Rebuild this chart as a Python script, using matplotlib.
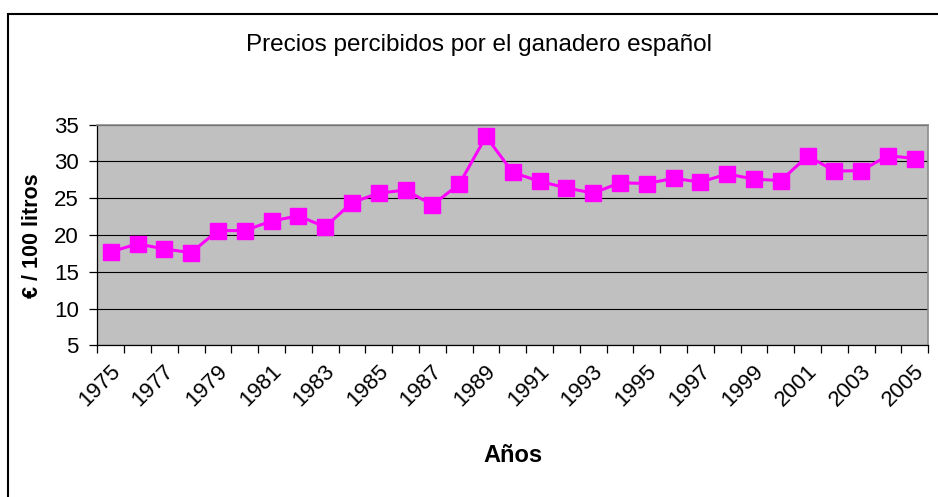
import numpy as np
import matplotlib
matplotlib.use("Agg")
import matplotlib.pyplot as plt
from matplotlib import font_manager
from matplotlib.transforms import ScaledTranslation
from matplotlib.patches import Rectangle

years = list(range(1975, 2006))
precios = [17.7, 18.8, 18.1, 17.6, 20.6, 20.6, 21.9, 22.6, 21.1, 24.4,
           25.7, 26.1, 24.1, 26.9, 33.4, 28.5, 27.3, 26.4, 25.7, 27.1,
           27.0, 27.7, 27.2, 28.3, 27.6, 27.4, 30.75, 28.7, 28.75, 30.8, 30.4]
year_labels = [str(y) for y in years]
title = "Precios percibidos por el ganadero español"
ylabel = "€ / 100 litros"
xlabel = "Años"

names = {f.name for f in font_manager.fontManager.ttflist}
narrow = "Liberation Sans Narrow" if "Liberation Sans Narrow" in names else "Liberation Sans"
regular = "Liberation Sans" if "Liberation Sans" in names else "DejaVu Sans"

W, H = 938, 497
fig = plt.figure(figsize=(W / 100, H / 100), dpi=100)
fig.patch.set_facecolor("white")

# outer frame (extends beyond right/bottom edges)
fig.add_artist(Rectangle((7.5 / W, -0.1), 1.2, 1 - 13.5 / H + 0.1,
                         transform=fig.transFigure, fill=False,
                         edgecolor="black", linewidth=1.5, zorder=0))

L, R, T, B = 97.3, 928.3, 124.7, 345.3
ax = fig.add_axes([L / W, 1 - B / H, (R - L) / W, (B - T) / H])
ax.set_facecolor("#C0C0C0")

x = np.arange(len(years))
ax.plot(x, precios, color="#FF00FF", linewidth=2.2, marker="s",
        markersize=11.5, markeredgecolor="#FF00FF", markerfacecolor="#FF00FF",
        zorder=3, clip_on=False)

ax.set_xlim(-0.5, len(years) - 0.5)
ax.set_ylim(5, 35)
ax.set_yticks(np.arange(5, 36, 5))
ax.yaxis.grid(True, color="black", linewidth=0.8)
ax.set_axisbelow(True)

# x: labels on every other year, tick marks on category boundaries
ax.set_xticks(x[::2])
ax.set_xticklabels(year_labels[::2])
ax.set_xticks(np.arange(-0.5, len(years), 1), minor=True)
ax.tick_params(axis="x", which="major", length=0, pad=11)
ax.tick_params(axis="x", which="minor", length=5.5, width=0.9, color="black", direction="out")
ax.tick_params(axis="y", length=5.8, width=0.9, color="black", direction="out", pad=7.5)

off = ScaledTranslation(-1 / 100, 0, fig.dpi_scale_trans)
for lab in ax.get_xticklabels():
    lab.set_rotation(45)
    lab.set_ha("right")
    lab.set_va("top")
    lab.set_rotation_mode("anchor")
    lab.set_fontfamily(narrow)
    lab.set_fontsize(16)
    lab.set_transform(lab.get_transform() + off)
for lab in ax.get_yticklabels():
    lab.set_fontfamily(narrow)
    lab.set_fontsize(16)

for s in ("left", "bottom"):
    ax.spines[s].set_color("black")
    ax.spines[s].set_linewidth(0.9)
for s in ("top", "right"):
    ax.spines[s].set_color("#8C8C8C")
    ax.spines[s].set_linewidth(1.2)

fig.text(479 / W, 1 - 45 / H, title, ha="center", va="center",
         fontsize=17.5, fontfamily=narrow)
fig.text(33 / W, 1 - 236 / H, ylabel, ha="center", va="center", rotation=90,
         fontsize=15.5, fontweight="bold", fontfamily=narrow)
fig.text(513 / W, 1 - 455 / H, xlabel, ha="center", va="center",
         fontsize=17, fontweight="bold", fontfamily=regular)

fig.savefig("out.png", dpi=100)
